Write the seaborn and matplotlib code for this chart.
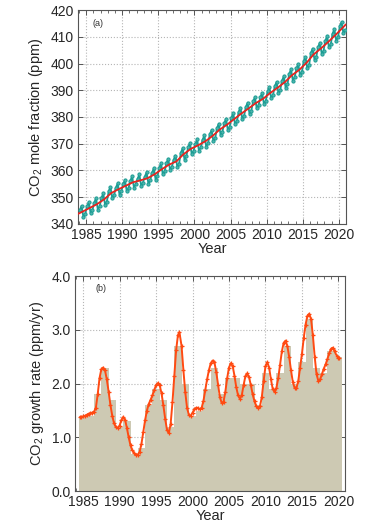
import numpy as np
import pandas as pd
import matplotlib
matplotlib.use('Agg')
import matplotlib.pyplot as plt
import seaborn as sns
from matplotlib.ticker import MultipleLocator, FormatStrFormatter

trend_years = [1983.9, 1984.5, 1985.5, 1986.5, 1987.5, 1988.5, 1989.5, 1990.5, 1991.5,
               1992.5, 1993.5, 1994.5, 1995.5, 1996.5, 1997.5, 1998.5, 1999.5, 2000.5,
               2001.5, 2002.5, 2003.5, 2004.5, 2005.5, 2006.5, 2007.5, 2008.5, 2009.5,
               2010.5, 2011.5, 2012.5, 2013.5, 2014.5, 2015.5, 2016.5, 2017.5, 2018.5,
               2019.5, 2020.5, 2020.95]
trend_ppm = [343.8, 344.6, 346.0, 347.4, 349.2, 351.6, 353.0, 354.3, 355.6,
             356.3, 357.1, 358.6, 360.5, 362.2, 363.4, 366.1, 368.1, 369.4,
             370.9, 372.9, 375.3, 377.1, 379.2, 381.3, 383.2, 385.2, 386.8,
             389.0, 390.9, 393.0, 395.6, 397.6, 400.2, 403.4, 405.6, 408.0,
             410.6, 413.3, 414.6]

# panel (a): observed values, four readings per year (Feb, May, Aug, Nov)
obs_years = list(range(1984, 2021))
obs_ppm = [
    [345.2, 346.8, 342.6, 343.8], [346.6, 348.2, 344.0, 345.2], [348.0, 349.6, 345.4, 346.6],
    [349.8, 351.4, 347.2, 348.4], [352.2, 353.8, 349.6, 350.8], [353.6, 355.2, 351.0, 352.2],
    [354.9, 356.5, 352.3, 353.5], [356.2, 357.8, 353.6, 354.8], [356.9, 358.5, 354.3, 355.5],
    [357.7, 359.3, 355.1, 356.3], [359.2, 360.8, 356.6, 357.8], [361.1, 362.7, 358.5, 359.7],
    [362.8, 364.4, 360.2, 361.4], [364.0, 365.6, 361.4, 362.6], [366.7, 368.3, 364.1, 365.3],
    [368.7, 370.3, 366.1, 367.3], [370.0, 371.6, 367.4, 368.6], [371.5, 373.1, 368.9, 370.1],
    [373.5, 375.1, 370.9, 372.1], [375.9, 377.5, 373.3, 374.5], [377.7, 379.3, 375.1, 376.3],
    [379.8, 381.4, 377.2, 378.4], [381.9, 383.5, 379.3, 380.5], [383.8, 385.4, 381.2, 382.4],
    [385.8, 387.4, 383.2, 384.4], [387.4, 389.0, 384.8, 386.0], [389.6, 391.2, 387.0, 388.2],
    [391.5, 393.1, 388.9, 390.1], [393.6, 395.2, 391.0, 392.2], [396.2, 397.8, 393.6, 394.8],
    [398.2, 399.8, 395.6, 396.8], [400.8, 402.4, 398.2, 399.4], [404.0, 405.6, 401.4, 402.6],
    [406.2, 407.8, 403.6, 404.8], [408.6, 410.2, 406.0, 407.2], [411.2, 412.8, 408.6, 409.8],
    [413.9, 415.5, 411.3, 412.5],
]
obs_months = [0.125, 0.375, 0.625, 0.875]

# panel (b): annual growth rates (bars)
bar_years = list(range(1985, 2021))
bar_rate = [1.4, 1.4, 1.8, 2.3, 1.7, 1.2, 1.3, 0.7, 0.8, 1.6, 1.9, 1.7, 1.2, 2.7, 2.0, 1.4,
            1.5, 1.9, 2.3, 1.8, 2.1, 2.1, 2.0, 2.0, 1.6, 2.2, 1.9, 2.2, 2.7, 2.0, 2.4, 3.2,
            2.3, 2.2, 2.6, 2.5]

# panel (b): smoothed growth rate, read every quarter year
curve_t = [1984.6, 1984.75, 1985.0, 1985.25, 1985.5, 1985.75, 1986.0, 1986.25, 1986.5, 1986.75,
           1987.0, 1987.25, 1987.5, 1987.75, 1988.0, 1988.25, 1988.5, 1988.75, 1989.0, 1989.25,
           1989.5, 1989.75, 1990.0, 1990.25, 1990.5, 1990.75, 1991.0, 1991.25, 1991.5, 1991.75,
           1992.0, 1992.25, 1992.5, 1992.75, 1993.0, 1993.25, 1993.5, 1993.75, 1994.0, 1994.25,
           1994.5, 1994.75, 1995.0, 1995.25, 1995.5, 1995.75, 1996.0, 1996.25, 1996.5, 1996.75,
           1997.0, 1997.25, 1997.5, 1997.75, 1998.0, 1998.2, 1998.5, 1998.75, 1999.0, 1999.25,
           1999.5, 1999.75, 2000.0, 2000.25, 2000.5, 2000.75, 2001.0, 2001.25, 2001.5, 2001.75,
           2002.0, 2002.25, 2002.5, 2002.75, 2003.0, 2003.25, 2003.5, 2003.75, 2004.0, 2004.25,
           2004.5, 2004.75, 2005.0, 2005.25, 2005.5, 2005.75, 2006.0, 2006.25, 2006.5, 2006.75,
           2007.0, 2007.25, 2007.5, 2007.75, 2008.0, 2008.25, 2008.5, 2008.75, 2009.0, 2009.25,
           2009.5, 2009.75, 2010.0, 2010.25, 2010.5, 2010.75, 2011.0, 2011.25, 2011.5, 2011.75,
           2012.0, 2012.25, 2012.5, 2012.75, 2013.0, 2013.25, 2013.5, 2013.75, 2014.0, 2014.25,
           2014.5, 2014.75, 2015.0, 2015.25, 2015.5, 2015.75, 2016.0, 2016.25, 2016.5, 2016.75,
           2017.0, 2017.25, 2017.5, 2017.75, 2018.0, 2018.25, 2018.5, 2018.75, 2019.0, 2019.25,
           2019.5, 2019.75, 2020.0, 2020.15]
curve_rate = [1.38, 1.38, 1.39, 1.40, 1.42, 1.44, 1.45, 1.46, 1.48, 1.55,
              1.80, 2.10, 2.27, 2.30, 2.25, 2.08, 1.85, 1.60, 1.40, 1.26,
              1.19, 1.18, 1.22, 1.32, 1.38, 1.33, 1.18, 1.00, 0.85, 0.76,
              0.71, 0.68, 0.68, 0.73, 0.88, 1.10, 1.32, 1.50, 1.62, 1.70,
              1.78, 1.88, 1.97, 2.01, 1.97, 1.82, 1.60, 1.35, 1.14, 1.08,
              1.25, 1.65, 2.15, 2.62, 2.90, 2.96, 2.70, 2.25, 1.85, 1.55,
              1.42, 1.40, 1.46, 1.52, 1.55, 1.55, 1.52, 1.55, 1.68, 1.88,
              2.08, 2.25, 2.38, 2.43, 2.40, 2.22, 1.98, 1.75, 1.64, 1.66,
              1.85, 2.10, 2.30, 2.38, 2.33, 2.15, 1.93, 1.78, 1.72, 1.78,
              1.97, 2.14, 2.19, 2.12, 1.97, 1.80, 1.67, 1.58, 1.55, 1.58,
              1.75, 2.05, 2.32, 2.40, 2.30, 2.08, 1.90, 1.85, 1.92, 2.10,
              2.35, 2.60, 2.76, 2.80, 2.70, 2.50, 2.25, 2.03, 1.92, 1.92,
              2.05, 2.30, 2.55, 2.85, 3.10, 3.26, 3.30, 3.20, 2.90, 2.50,
              2.18, 2.05, 2.08, 2.18, 2.28, 2.36, 2.46, 2.57, 2.65, 2.67,
              2.60, 2.52, 2.48, 2.48]

obs_t = [y + m for y in obs_years for m in obs_months]
obs_v = [v for row in obs_ppm for v in row]

sns.set_style('ticks')
plt.rcParams['font.family'] = ['Liberation Sans', 'DejaVu Sans']
plt.rcParams['mathtext.default'] = 'regular'

fig = plt.figure(figsize=(3.85, 5.27), dpi=100)
ax1 = fig.add_axes([0.203, 0.575, 0.696, 0.406])
ax2 = fig.add_axes([0.195, 0.068, 0.701, 0.408])

teal = '#1c9d94'
red = '#e8231e'
orange = '#ff4a12'
tan = '#cdc9b3'

# --- panel (a)
sns.lineplot(x=obs_t, y=obs_v, ax=ax1, color=teal, linewidth=1.3, marker='o',
             markersize=2.3, markerfacecolor='#4fb5ad', markeredgecolor=teal,
             markeredgewidth=0.7, zorder=3)
sns.lineplot(x=trend_years, y=trend_ppm, ax=ax1, color=red, linewidth=1.3, zorder=4)
ax1.set_ylim(340, 420)
ax1.set_xlim(1983.9, 2021.0)
ax1.yaxis.set_major_locator(MultipleLocator(10))
ax1.set_ylabel('CO$_2$ mole fraction (ppm)', fontsize=10.5, labelpad=4)
ax1.text(0.055, 0.925, '(a)', transform=ax1.transAxes, fontsize=6.5, color='#333333')

# --- panel (b)
sns.barplot(x=bar_years, y=bar_rate, ax=ax2, native_scale=True, width=1.0,
            color=tan, saturation=1, linewidth=0, zorder=2)
sns.lineplot(x=curve_t, y=curve_rate, ax=ax2, color=orange, linewidth=1.4, marker='+',
             markersize=2.6, markeredgewidth=0.9, markeredgecolor=orange, zorder=4)
ax2.set_ylim(0, 4.0)
ax2.set_xlim(1983.9, 2020.9)
ax2.yaxis.set_major_locator(MultipleLocator(1.0))
ax2.yaxis.set_major_formatter(FormatStrFormatter('%.1f'))
ax2.set_ylabel('CO$_2$ growth rate (ppm/yr)', fontsize=10.5, labelpad=4)
ax2.text(0.075, 0.93, '(b)', transform=ax2.transAxes, fontsize=6.5, color='#333333')

for ax in (ax1, ax2):
    ax.xaxis.set_major_locator(MultipleLocator(5))
    ax.xaxis.set_minor_locator(MultipleLocator(1))
    ax.set_xlabel('Year', fontsize=10.5, labelpad=0)
    ax.grid(True, which='major', color='#b5b5b5', linestyle=':', linewidth=0.8)
    ax.set_axisbelow(True)
    ax.tick_params(which='both', direction='in', top=True, right=True, labelsize=10,
                   color='#555555', pad=3)
    ax.tick_params(which='major', length=3.5, width=0.7)
    ax.tick_params(which='minor', length=2, width=0.6)
    for s in ax.spines.values():
        s.set_color('#555555')
        s.set_linewidth(0.8)

fig.savefig('out.png', dpi=100)
